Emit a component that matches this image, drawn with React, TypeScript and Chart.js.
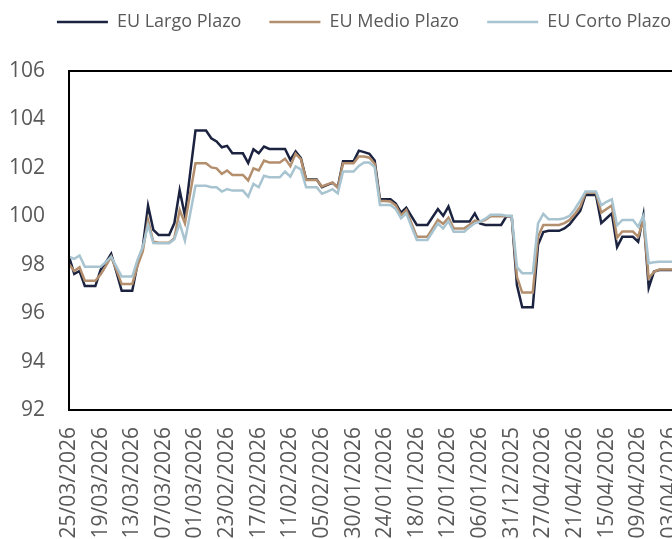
import React, { useEffect, useRef } from 'react';
import { Chart, registerables } from 'chart.js';

Chart.register(...registerables);

const dates = [
  '25/03/2026','24/03/2026','23/03/2026','22/03/2026','21/03/2026','20/03/2026','19/03/2026','18/03/2026','17/03/2026','16/03/2026',
  '15/03/2026','14/03/2026','13/03/2026','12/03/2026','11/03/2026','10/03/2026','09/03/2026','08/03/2026','07/03/2026','06/03/2026',
  '05/03/2026','04/03/2026','03/03/2026','02/03/2026','01/03/2026',
  '28/02/2026','27/02/2026','26/02/2026','25/02/2026','24/02/2026','23/02/2026','22/02/2026','21/02/2026','20/02/2026','19/02/2026',
  '18/02/2026','17/02/2026','16/02/2026','15/02/2026','14/02/2026','13/02/2026','12/02/2026','11/02/2026','10/02/2026','09/02/2026',
  '08/02/2026','07/02/2026','06/02/2026','05/02/2026','04/02/2026','03/02/2026','02/02/2026','01/02/2026',
  '31/01/2026','30/01/2026','29/01/2026','28/01/2026','27/01/2026','26/01/2026','25/01/2026','24/01/2026','23/01/2026','22/01/2026',
  '21/01/2026','20/01/2026','19/01/2026','18/01/2026','17/01/2026','16/01/2026','15/01/2026','14/01/2026','13/01/2026','12/01/2026',
  '11/01/2026','10/01/2026','09/01/2026','08/01/2026','07/01/2026','06/01/2026','05/01/2026','04/01/2026','03/01/2026','02/01/2026',
  '01/01/2026','31/12/2025',
  '02/05/2026','01/05/2026','30/04/2026','29/04/2026','28/04/2026','27/04/2026','26/04/2026','25/04/2026','24/04/2026','23/04/2026',
  '22/04/2026','21/04/2026','20/04/2026','19/04/2026','18/04/2026','17/04/2026','16/04/2026','15/04/2026','14/04/2026','13/04/2026',
  '12/04/2026','11/04/2026','10/04/2026','09/04/2026','08/04/2026','07/04/2026','06/04/2026','05/04/2026','04/04/2026','03/04/2026',
  '02/04/2026','01/04/2026','31/03/2026','30/03/2026','29/03/2026','28/03/2026','27/03/2026','26/03/2026'
];

const largo = [
  98.33, 97.62, 97.74, 97.12, 97.12, 97.12, 97.79, 98.1, 98.45, 97.7,
  96.92, 96.92, 96.92, 98.03, 98.72, 100.44, 99.44, 99.23, 99.23, 99.23,
  99.72, 101.08, 100.02, 101.8, 103.54, 103.54, 103.54, 103.22, 103.09, 102.85,
  102.91, 102.6, 102.6, 102.6, 102.2, 102.77, 102.6, 102.88, 102.78, 102.78,
  102.78, 102.78, 102.33, 102.68, 102.4, 101.52, 101.52, 101.52, 101.2, 101.3,
  101.38, 101.2, 102.27, 102.27, 102.27, 102.71, 102.65, 102.58, 102.3, 100.7,
  100.7, 100.7, 100.52, 100.15, 100.35, 100.0, 99.64, 99.64, 99.64, 99.97,
  100.3, 100.02, 100.4, 99.78, 99.78, 99.78, 99.78, 100.12, 99.7, 99.64,
  99.64, 99.64, 99.64, 100.0, 100.0, 97.15, 96.24, 96.24, 96.24, 98.82,
  99.35, 99.4, 99.4, 99.4, 99.5, 99.67, 99.95, 100.22, 100.88, 100.88,
  100.88, 99.72, 99.92, 100.12, 98.73, 99.15, 99.15, 99.15, 98.95, 100.05,
  97.05, 97.72, 97.78, 97.78, 97.78, 97.78
];

const medio = [
  98.03, 97.74, 97.9, 97.34, 97.34, 97.34, 97.6, 97.95, 98.33, 97.78,
  97.2, 97.2, 97.2, 97.95, 98.55, 99.85, 98.95, 98.91, 98.91, 98.91,
  99.1, 100.26, 99.71, 100.95, 102.19, 102.19, 102.19, 102.02, 101.98, 101.75,
  101.89, 101.71, 101.71, 101.71, 101.48, 101.98, 101.89, 102.3, 102.22, 102.22,
  102.22, 102.38, 102.07, 102.58, 102.36, 101.5, 101.5, 101.5, 101.23, 101.32,
  101.4, 101.17, 102.19, 102.19, 102.19, 102.47, 102.47, 102.42, 102.17, 100.63,
  100.63, 100.61, 100.45, 100.04, 100.26, 99.7, 99.16, 99.16, 99.16, 99.5,
  99.85, 99.69, 99.94, 99.5, 99.5, 99.5, 99.65, 99.82, 99.78, 99.85,
  100.0, 100.0, 100.0, 100.0, 100.0, 97.5, 96.85, 96.85, 96.85, 99.16,
  99.64, 99.64, 99.64, 99.64, 99.72, 99.85, 100.1, 100.4, 100.97, 100.97,
  100.97, 100.15, 100.3, 100.45, 99.12, 99.37, 99.37, 99.37, 99.16, 99.85,
  97.44, 97.71, 97.8, 97.8, 97.8, 97.8
];

const corto = [
  98.33, 98.24, 98.38, 97.92, 97.92, 97.92, 97.92, 98.12, 98.33, 97.92,
  97.51, 97.51, 97.51, 98.2, 98.74, 99.64, 98.9, 98.89, 98.89, 98.89,
  99.05, 99.71, 98.99, 100.1, 101.26, 101.26, 101.26, 101.2, 101.2, 101.02,
  101.12, 101.06, 101.06, 101.06, 100.81, 101.34, 101.2, 101.67, 101.61, 101.61,
  101.61, 101.85, 101.64, 102.06, 101.94, 101.2, 101.2, 101.2, 100.93, 101.02,
  101.12, 100.95, 101.85, 101.85, 101.85, 102.08, 102.22, 102.22, 102.03, 100.47,
  100.47, 100.47, 100.3, 99.92, 100.12, 99.57, 99.02, 99.02, 99.02, 99.36,
  99.7, 99.5, 99.8, 99.36, 99.36, 99.36, 99.55, 99.71, 99.78, 99.9,
  100.06, 100.06, 100.06, 100.02, 100.02, 97.9, 97.65, 97.65, 97.65, 99.71,
  100.1, 99.88, 99.88, 99.88, 99.92, 100.02, 100.3, 100.65, 101.02, 101.02,
  101.02, 100.45, 100.6, 100.7, 99.62, 99.85, 99.85, 99.85, 99.57, 100.02,
  98.06, 98.1, 98.12, 98.12, 98.12, 98.12
];

const seriesNames = ['EU Largo Plazo', 'EU Medio Plazo', 'EU Corto Plazo'];
const seriesColors = ['#1b2340', '#b38f6e', '#a8c4d0'];
const yMin = 92;
const yMax = 106;
const yStep = 2;
const labelEvery = 6;

const CANVAS_W = 744;
const CANVAS_H = 580;
const CANVAS_TOP = -15;
const AREA_BOTTOM = 425;
const LEGEND_EXTRA = 30;

const legendSpacer = {
  id: 'legendSpacer',
  beforeInit(chart: any) {
    const legend = chart.legend;
    if (!legend) return;
    const origFit = legend.fit;
    legend.fit = function () {
      origFit.call(this);
      this.height += LEGEND_EXTRA;
    };
  },
};

const framePlugin = {
  id: 'frame',
  afterDatasetsDraw(chart: any) {
    const { ctx, chartArea } = chart;
    ctx.save();
    ctx.strokeStyle = '#000000';
    ctx.lineWidth = 2;
    ctx.strokeRect(chartArea.left, chartArea.top, chartArea.right - chartArea.left, chartArea.bottom - chartArea.top);
    ctx.restore();
  },
};

export default function App() {
  const ref = useRef<HTMLCanvasElement | null>(null);

  useEffect(() => {
    if (!ref.current) return;
    const series = [largo, medio, corto];
    const chart = new Chart(ref.current, {
      type: 'line',
      data: {
        labels: dates,
        datasets: series.map((d, k) => ({
          label: seriesNames[k],
          data: d,
          borderColor: seriesColors[k],
          backgroundColor: seriesColors[k],
          borderWidth: 2.5,
          pointRadius: 0,
          pointHoverRadius: 0,
          tension: 0,
          fill: false,
          order: 2 - k,
        })),
      },
      options: {
        responsive: false,
        animation: false,
        events: [],
        layout: { padding: { top: 0, right: 24, bottom: 0, left: 8 } },
        plugins: {
          tooltip: { enabled: false },
          legend: {
            position: 'top',
            labels: {
              usePointStyle: true,
              pointStyle: 'line',
              pointStyleWidth: 51,
              boxHeight: 18,
              padding: 28,
              color: '#595959',
              font: { family: 'Open Sans', size: 18 },
              sort: (a: any, b: any) => a.datasetIndex - b.datasetIndex,
            },
          },
        },
        scales: {
          x: {
            type: 'category',
            grid: { display: false, drawTicks: false },
            border: { display: false },
            afterFit: (scale: any) => { scale.height = CANVAS_H - AREA_BOTTOM; },
            ticks: {
              autoSkip: false,
              minRotation: 90,
              maxRotation: 90,
              padding: 17,
              color: '#595959',
              font: { family: 'Open Sans', size: 21 },
              callback: (_v: any, i: number) => (i % labelEvery === 0 ? dates[i] : null),
            },
          },
          y: {
            min: yMin,
            max: yMax,
            grid: { display: false, drawTicks: false },
            border: { display: false },
            afterFit: (scale: any) => { scale.width = 61; },
            ticks: {
              stepSize: yStep,
              padding: 24,
              color: '#595959',
              font: { family: 'Open Sans', size: 21 },
            },
          },
        },
      },
      plugins: [legendSpacer, framePlugin],
    } as any);
    return () => chart.destroy();
  }, []);

  return (
    <div style={{ position: 'fixed', inset: 0, overflow: 'hidden', background: '#fff' }}>
      <div style={{ position: 'absolute', left: 0, top: CANVAS_TOP, width: CANVAS_W, height: CANVAS_H }}>
        <canvas ref={ref} width={CANVAS_W} height={CANVAS_H} />
      </div>
    </div>
  );
}
